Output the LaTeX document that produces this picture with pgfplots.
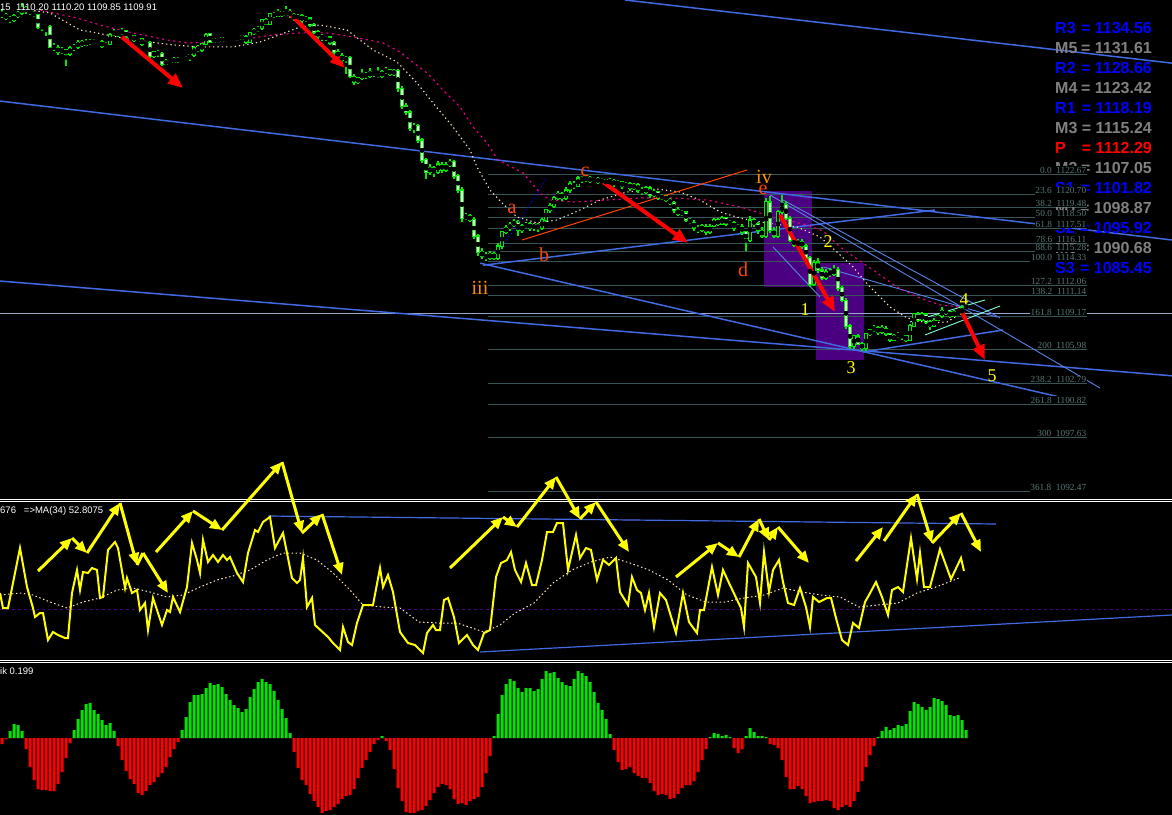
\documentclass[border=0pt]{standalone}
\usepackage{pgfplots}
\pgfplotsset{compat=1.18}
\usepackage{pgfplotstable}
\usetikzlibrary{arrows.meta}
\usepackage{fontspec}
\setmainfont{Liberation Sans}
\newfontfamily\serifmt{Liberation Serif}
\definecolor{wick}{RGB}{0,235,0}
\definecolor{mablue}{RGB}{65,105,225}
\definecolor{fanblue}{RGB}{90,130,235}
\definecolor{fib}{RGB}{55,85,85}
\definecolor{fibtxt}{RGB}{90,120,120}
\definecolor{bisq}{RGB}{255,228,196}
\definecolor{purp}{RGB}{75,0,130}
\definecolor{orred}{RGB}{255,69,0}
\definecolor{orng}{RGB}{255,145,0}
\definecolor{pvblue}{RGB}{0,0,255}
\definecolor{pvgray}{RGB}{128,128,128}
\definecolor{hgreen}{RGB}{0,230,0}
\definecolor{hred}{RGB}{255,0,0}
\definecolor{hline}{RGB}{150,170,200}
\definecolor{aqua}{RGB}{127,255,212}
\definecolor{ddblue}{RGB}{0,0,205}
\definecolor{yel}{RGB}{255,255,0}

% price candles: open high low close (one bar every 4 px, index 0..241)
\pgfplotstableread[row sep=\\]{
o h l c\\
1137.9 1138.3 1137.5 1137.78\\ 1137.78 1138.0 1137.3 1137.49\\ 1137.49 1137.7 1137.0 1137.30\\ 1137.30 1137.9 1137.1 1137.68\\
1137.68 1138.2 1137.5 1137.97\\ 1137.97 1138.9 1137.8 1138.44\\ 1138.44 1138.6 1137.9 1138.16\\ 1138.16 1138.4 1137.8 1137.97\\
1137.97 1138.2 1137.6 1137.78\\ 1137.78 1137.9 1136.5 1136.64\\ 1136.64 1136.9 1136.3 1136.73\\ 1136.73 1136.9 1135.8 1136.64\\
1136.64 1136.8 1134.6 1134.74\\ 1134.74 1135.1 1134.4 1134.64\\ 1134.64 1134.9 1134.0 1134.26\\ 1134.26 1134.7 1134.1 1134.45\\
1134.45 1134.6 1132.9 1134.07\\ 1134.07 1134.8 1133.9 1134.64\\ 1134.64 1135.0 1134.4 1134.74\\ 1134.74 1135.4 1134.5 1135.21\\
1135.21 1135.4 1134.7 1134.93\\ 1134.93 1135.5 1134.8 1135.30\\ 1135.30 1135.5 1134.9 1135.12\\ 1135.12 1135.5 1135.0 1135.30\\
1135.30 1135.4 1134.9 1135.21\\ 1135.21 1135.4 1134.6 1134.83\\ 1134.83 1135.2 1134.7 1135.02\\ 1135.02 1136.1 1134.9 1135.97\\
1135.97 1136.4 1135.8 1136.16\\ 1136.16 1136.3 1135.7 1136.07\\ 1136.07 1136.5 1135.9 1136.26\\ 1136.26 1136.4 1135.5 1135.69\\
1135.69 1136.0 1135.5 1135.78\\ 1135.78 1135.9 1135.2 1135.40\\ 1135.40 1135.7 1135.2 1135.50\\ 1135.50 1135.6 1134.8 1135.02\\
1135.02 1135.3 1134.8 1135.12\\ 1135.12 1135.3 1133.7 1133.88\\ 1133.88 1134.4 1133.7 1134.26\\ 1134.26 1134.5 1133.8 1134.07\\
1134.07 1134.3 1132.9 1133.12\\ 1133.12 1133.6 1133.0 1133.41\\ 1133.41 1133.6 1133.1 1133.31\\ 1133.31 1133.8 1133.2 1133.60\\
1133.60 1133.8 1133.2 1133.41\\ 1133.41 1133.7 1133.3 1133.50\\ 1133.50 1133.9 1133.4 1133.69\\ 1133.69 1134.1 1133.4 1133.98\\
1133.98 1134.8 1133.8 1134.64\\ 1134.64 1134.9 1134.3 1134.45\\ 1134.45 1135.1 1134.3 1135.02\\ 1135.02 1136.1 1134.9 1135.97\\
1135.97 1136.1 1135.1 1135.21\\ 1135.21 1135.6 1135.1 1135.50\\ 1135.50 1135.6 1135.1 1135.30\\ 1135.30 1135.7 1135.2 1135.59\\
1135.59 1135.7 1135.2 1135.40\\ 1135.40 1135.7 1135.3 1135.59\\ 1135.59 1135.9 1135.5 1135.69\\ 1135.69 1135.8 1135.3 1135.50\\
1135.50 1135.9 1135.4 1135.78\\ 1135.78 1135.9 1135.0 1135.21\\ 1135.21 1136.2 1135.1 1136.07\\ 1136.07 1136.5 1135.9 1136.35\\
1136.35 1136.7 1136.2 1136.54\\ 1136.54 1137.4 1136.4 1137.30\\ 1137.30 1137.5 1136.8 1136.92\\ 1136.92 1138.0 1136.8 1137.87\\
1137.87 1138.1 1137.5 1137.68\\ 1137.68 1138.4 1137.6 1138.06\\ 1138.06 1138.2 1137.6 1137.78\\ 1137.78 1138.6 1137.7 1138.06\\
1138.06 1138.3 1137.5 1137.78\\ 1137.78 1138.0 1137.2 1137.49\\ 1137.49 1137.9 1137.3 1137.68\\ 1137.68 1137.9 1137.0 1137.30\\
1137.30 1137.7 1137.1 1137.49\\ 1137.49 1137.6 1136.6 1136.83\\ 1136.83 1137.0 1136.0 1136.16\\ 1136.16 1136.4 1135.5 1135.78\\
1135.78 1136.0 1135.3 1135.59\\ 1135.59 1135.9 1135.3 1135.69\\ 1135.69 1135.8 1134.9 1135.12\\ 1135.12 1135.3 1134.0 1134.26\\
1134.26 1134.5 1133.6 1133.88\\ 1133.88 1134.2 1133.2 1133.50\\ 1133.50 1133.9 1132.2 1133.69\\ 1133.69 1133.9 1131.8 1131.98\\
1131.98 1132.2 1131.1 1131.41\\ 1131.41 1131.9 1131.2 1131.79\\ 1131.79 1132.6 1131.6 1132.17\\ 1132.17 1132.4 1131.7 1131.98\\
1131.98 1132.7 1131.8 1132.36\\ 1132.36 1132.5 1131.9 1132.17\\ 1132.17 1132.8 1131.8 1131.98\\ 1131.98 1132.6 1131.8 1132.36\\
1132.36 1132.8 1132.2 1132.55\\ 1132.55 1132.7 1132.0 1132.17\\ 1132.17 1132.6 1132.0 1132.46\\ 1132.46 1132.7 1130.5 1130.84\\
1130.84 1131.0 1128.9 1129.13\\ 1129.13 1129.4 1128.3 1128.56\\ 1128.56 1128.8 1126.8 1127.04\\ 1127.04 1127.5 1126.6 1127.23\\
1127.23 1127.4 1125.6 1125.90\\ 1125.90 1126.1 1123.7 1124.00\\ 1124.00 1124.2 1122.2 1122.86\\ 1122.86 1123.6 1122.6 1123.24\\
1123.24 1123.4 1122.4 1122.86\\ 1122.86 1123.9 1122.7 1123.62\\ 1123.62 1123.8 1122.8 1123.05\\ 1123.05 1123.8 1122.9 1123.53\\
1123.53 1124.1 1123.3 1123.81\\ 1123.81 1124.0 1122.2 1122.48\\ 1122.48 1122.7 1120.9 1121.15\\ 1121.15 1121.4 1118.1 1118.49\\
1118.49 1119.0 1118.3 1118.68\\ 1118.68 1118.9 1118.1 1118.30\\ 1118.30 1118.6 1116.5 1116.78\\ 1116.78 1117.0 1114.9 1115.26\\
1115.26 1115.6 1114.6 1114.88\\ 1114.88 1115.3 1114.4 1114.69\\ 1114.69 1115.4 1114.5 1115.07\\ 1115.07 1115.3 1114.5 1114.69\\
1114.69 1116.1 1114.5 1115.83\\ 1115.83 1117.3 1115.6 1117.16\\ 1117.16 1117.8 1117.0 1117.54\\ 1117.54 1118.1 1117.3 1117.83\\
1117.83 1118.4 1117.6 1118.11\\ 1118.11 1118.3 1116.8 1117.35\\ 1117.35 1117.9 1117.1 1117.73\\ 1117.73 1118.1 1117.5 1117.92\\
1117.92 1118.1 1117.3 1117.54\\ 1117.54 1118.0 1117.3 1117.83\\ 1117.83 1118.0 1117.2 1117.54\\ 1117.54 1118.5 1117.4 1118.30\\
1118.30 1119.4 1118.1 1119.25\\ 1119.25 1119.9 1119.0 1119.63\\ 1119.63 1120.6 1119.4 1120.39\\ 1120.39 1121.1 1120.2 1120.77\\
1120.77 1121.0 1120.1 1120.39\\ 1120.39 1121.4 1120.2 1121.15\\ 1121.15 1122.0 1120.9 1121.72\\ 1121.72 1122.0 1121.2 1121.53\\
1121.53 1122.5 1121.4 1122.29\\ 1122.29 1122.5 1121.8 1122.10\\ 1122.10 1122.6 1121.9 1122.29\\ 1122.29 1122.5 1121.8 1122.01\\
1122.01 1122.4 1121.9 1122.20\\ 1122.20 1122.4 1121.7 1121.91\\ 1121.91 1122.3 1121.8 1122.10\\ 1122.10 1122.2 1121.6 1121.82\\
1121.82 1122.3 1121.7 1122.01\\ 1122.01 1122.2 1121.4 1121.72\\ 1121.72 1122.1 1121.6 1121.91\\ 1121.91 1122.0 1121.3 1121.53\\
1121.53 1121.9 1121.4 1121.72\\ 1121.72 1121.9 1121.1 1121.34\\ 1121.34 1121.8 1121.2 1121.63\\ 1121.63 1121.8 1120.9 1121.15\\
1121.15 1121.4 1120.7 1120.96\\ 1120.96 1121.5 1120.8 1121.34\\ 1121.34 1121.5 1120.4 1120.68\\ 1120.68 1121.2 1120.5 1120.96\\
1120.96 1121.1 1120.2 1120.39\\ 1120.39 1120.8 1120.2 1120.58\\ 1120.58 1120.7 1120.0 1120.20\\ 1120.20 1120.4 1119.7 1119.92\\
1119.92 1120.1 1119.0 1119.25\\ 1119.25 1119.5 1118.7 1118.87\\ 1118.87 1119.3 1118.7 1119.06\\ 1119.06 1119.2 1118.1 1118.30\\
1118.30 1118.5 1117.9 1118.11\\ 1118.11 1118.3 1117.3 1117.54\\ 1117.54 1117.8 1117.1 1117.35\\ 1117.35 1117.9 1117.2 1117.73\\
1117.73 1117.9 1116.9 1117.16\\ 1117.16 1117.9 1117.0 1117.73\\ 1117.73 1118.5 1117.6 1118.30\\ 1118.30 1118.5 1117.7 1117.92\\
1117.92 1118.7 1117.8 1118.49\\ 1118.49 1118.6 1117.7 1117.92\\ 1117.92 1118.3 1117.8 1118.11\\ 1118.11 1118.2 1117.3 1117.54\\
1117.54 1117.9 1117.4 1117.73\\ 1117.73 1117.9 1116.9 1117.16\\ 1117.16 1117.3 1115.4 1116.40\\ 1116.40 1118.7 1116.2 1118.30\\
1118.30 1118.5 1117.6 1117.92\\ 1117.92 1118.1 1117.0 1117.35\\ 1117.35 1117.6 1116.6 1116.78\\ 1116.78 1120.4 1116.6 1120.01\\
1120.01 1120.6 1117.1 1117.35\\ 1117.35 1117.6 1116.6 1116.78\\ 1116.78 1119.3 1116.6 1119.06\\ 1119.06 1120.7 1118.8 1119.73\\
1119.73 1120.1 1118.3 1118.49\\ 1118.49 1118.7 1116.2 1116.40\\ 1116.40 1116.6 1115.7 1115.93\\ 1115.93 1116.5 1115.8 1116.21\\
1116.21 1116.5 1115.6 1115.83\\ 1115.83 1116.0 1114.5 1114.69\\ 1114.69 1114.9 1111.9 1112.22\\ 1112.22 1114.5 1112.0 1114.31\\
1114.31 1114.7 1113.3 1113.55\\ 1113.55 1113.8 1112.6 1112.79\\ 1112.79 1113.6 1112.6 1113.36\\ 1113.36 1113.7 1112.9 1113.17\\
1113.17 1114.0 1113.0 1113.55\\ 1113.55 1113.8 1111.6 1111.84\\ 1111.84 1112.0 1110.5 1110.70\\ 1110.70 1110.9 1108.0 1108.23\\
1108.23 1108.4 1106.1 1106.33\\ 1106.33 1107.4 1106.1 1107.28\\ 1107.28 1107.5 1106.4 1106.52\\ 1106.52 1106.7 1105.9 1106.14\\
1106.14 1107.6 1105.9 1107.47\\ 1107.47 1107.9 1107.3 1107.85\\ 1107.85 1108.3 1107.7 1108.04\\ 1108.04 1108.2 1107.4 1107.66\\
1107.66 1108.3 1107.5 1108.04\\ 1108.04 1108.2 1107.3 1107.47\\ 1107.47 1107.6 1106.7 1106.90\\ 1106.90 1107.5 1106.8 1107.28\\
1107.28 1107.7 1107.1 1107.47\\ 1107.47 1107.6 1106.9 1107.28\\ 1107.28 1107.4 1106.7 1106.90\\ 1106.90 1108.4 1106.8 1108.23\\
1108.23 1109.5 1108.1 1109.37\\ 1109.37 1109.6 1108.6 1108.80\\ 1108.80 1109.6 1108.7 1109.37\\ 1109.37 1109.5 1108.4 1108.61\\
1108.61 1108.8 1107.9 1108.23\\ 1108.23 1109.0 1108.1 1108.80\\ 1108.80 1109.4 1108.7 1109.18\\ 1109.18 1110.0 1109.0 1109.75\\
1109.75 1109.9 1109.3 1109.56\\ 1109.56 1109.7 1109.0 1109.18\\ 1109.18 1109.8 1109.1 1109.56\\ 1109.56 1109.7 1109.2 1109.37\\
1109.37 1110.2 1109.3 1109.94\\ 1110.20 1110.20 1109.85 1109.91\\
}\tcandles

% oscillator (yellow line)
\pgfplotstableread[row sep=\\]{
x v\\
0 51.6\\ 3 50.1\\ 8 50.1\\ 20 56.1\\ 27 52.2\\ 33 50.1\\ 35 49.2\\ 40 49.6\\ 43 49.6\\ 48 46.9\\ 53 47.7\\ 58 47.4\\ 65 47.1\\ 68 47.1\\
72 51.6\\ 77 53.9\\ 80 51.9\\ 83 53.7\\ 88 53.6\\ 92 54.1\\ 97 53.9\\ 100 51.1\\ 103 51.2\\ 108 55.9\\ 115 56.7\\ 118 56.1\\ 125 52.1\\
127 53.1\\ 132 51.6\\ 137 51.9\\ 140 49.9\\ 145 50.6\\ 148 47.9\\ 153 51.1\\ 158 49.6\\ 162 48.4\\ 167 49.9\\ 170 49.7\\ 173 51.2\\
180 49.7\\ 187 52.2\\ 192 56.6\\ 197 54.9\\ 200 53.6\\ 203 56.9\\ 208 54.7\\ 213 55.4\\ 218 54.7\\ 223 55.4\\ 227 54.9\\ 230 55.2\\
237 53.6\\ 243 52.7\\ 248 55.6\\ 255 57.9\\ 258 57.7\\ 263 58.7\\ 270 59.2\\ 275 56.1\\ 283 57.6\\ 292 53.1\\ 297 52.6\\ 300 52.9\\
303 55.1\\ 307 50.2\\ 312 51.1\\ 315 48.4\\ 328 47.2\\ 333 46.6\\ 340 45.9\\ 343 48.2\\ 348 46.7\\ 352 46.4\\ 357 48.6\\ 363 50.4\\
373 50.4\\ 380 54.1\\ 383 52.2\\ 388 53.4\\ 393 51.7\\ 400 47.7\\ 408 46.6\\ 415 46.4\\ 423 45.6\\ 427 47.6\\ 433 48.4\\ 436 47.9\\
440 47.9\\ 444 50.9\\ 448 51.1\\ 454 49.2\\ 459 46.6\\ 467 47.4\\ 473 46.4\\ 478 45.9\\ 484 47.6\\ 490 47.9\\ 496 53.2\\ 501 54.6\\
507 54.9\\ 511 55.7\\ 515 53.9\\ 521 52.7\\ 526 54.6\\ 532 52.4\\ 536 52.4\\ 542 54.9\\ 547 57.7\\ 553 57.7\\ 557 58.6\\ 563 58.6\\
568 53.9\\ 576 57.4\\ 580 55.1\\ 586 56.1\\ 591 55.9\\ 597 52.9\\ 603 54.9\\ 609 54.4\\ 616 55.1\\ 620 51.7\\ 628 50.4\\ 632 53.2\\
637 51.9\\ 641 51.6\\ 645 49.9\\ 649 51.6\\ 654 48.2\\ 660 51.6\\ 666 50.9\\ 676 47.6\\ 683 51.6\\ 689 48.7\\ 697 47.6\\ 700 49.9\\
704 49.9\\ 712 54.2\\ 718 51.4\\ 723 53.9\\ 729 52.6\\ 741 50.1\\ 744 48.2\\ 748 54.6\\ 756 53.2\\ 760 50.6\\ 764 55.7\\ 769 51.7\\
773 53.9\\ 779 54.9\\ 783 52.7\\ 788 50.6\\ 794 50.4\\ 800 52.1\\ 806 50.2\\ 810 48.2\\ 813 51.2\\ 819 50.7\\ 827 51.1\\ 831 51.1\\
836 49.1\\ 842 46.9\\ 848 46.4\\ 853 48.6\\ 859 48.1\\ 865 50.7\\ 869 51.4\\ 876 52.7\\ 882 51.2\\ 888 49.4\\ 892 51.9\\ 898 52.2\\
903 51.7\\ 911 57.1\\ 917 53.0\\ 920 55.6\\ 924 52.2\\ 930 52.2\\ 940 56.0\\ 951 53.0\\ 961 55.1\\ 964 53.8\\
}\tosc

% oscillator MA(34)
\pgfplotstableread[row sep=\\]{
x v\\
0 51.4\\ 20 51.6\\ 33 51.4\\ 50 50.7\\ 67 50.1\\ 83 50.7\\ 100 51.1\\ 117 51.9\\ 133 52.1\\ 150 51.7\\ 167 51.2\\ 183 51.4\\
200 52.2\\ 217 52.9\\ 233 53.3\\ 250 53.9\\ 267 54.9\\ 283 55.6\\ 300 55.6\\ 317 54.9\\ 333 53.6\\ 350 51.9\\ 363 50.4\\ 383 50.2\\
400 50.1\\ 419 48.7\\ 438 48.6\\ 457 48.6\\ 484 47.7\\ 500 48.4\\ 515 49.6\\ 534 50.6\\ 553 52.6\\ 572 53.9\\ 591 54.7\\ 610 55.2\\
630 54.6\\ 649 53.9\\ 668 52.9\\ 687 51.4\\ 706 50.7\\ 725 50.7\\ 744 51.1\\ 764 51.4\\ 783 52.1\\ 802 51.7\\ 821 51.4\\ 840 51.2\\
859 50.2\\ 878 50.4\\ 898 50.6\\ 917 51.6\\ 936 52.2\\ 959 53.1\\
}\toscma

% histogram: one value per bar
\pgfplotstableread[row sep=\\]{
v\\
-0.06\\ -0.01\\ 0.07\\ 0.14\\ 0.13\\ 0.07\\ -0.11\\ -0.29\\ -0.42\\ -0.51\\ -0.52\\ -0.52\\ -0.53\\ -0.53\\ -0.46\\ -0.34\\ -0.20\\ -0.05\\
0.08\\ 0.19\\ 0.28\\ 0.34\\ 0.35\\ 0.28\\ 0.24\\ 0.18\\ 0.13\\ 0.15\\ 0.07\\ -0.08\\ -0.22\\ -0.33\\ -0.41\\ -0.46\\ -0.55\\ -0.57\\
-0.53\\ -0.47\\ -0.44\\ -0.39\\ -0.35\\ -0.29\\ -0.19\\ -0.11\\ -0.04\\ 0.08\\ 0.21\\ 0.36\\ 0.43\\ 0.43\\ 0.44\\ 0.50\\ 0.55\\ 0.53\\
0.54\\ 0.51\\ 0.44\\ 0.38\\ 0.33\\ 0.30\\ 0.26\\ 0.29\\ 0.41\\ 0.49\\ 0.56\\ 0.59\\ 0.56\\ 0.54\\ 0.47\\ 0.38\\ 0.29\\ 0.20\\ 0.05\\
-0.14\\ -0.30\\ -0.42\\ -0.47\\ -0.56\\ -0.63\\ -0.69\\ -0.75\\ -0.73\\ -0.72\\ -0.69\\ -0.66\\ -0.61\\ -0.58\\ -0.57\\ -0.51\\ -0.40\\
-0.30\\ -0.22\\ -0.14\\ -0.06\\ -0.02\\ 0.02\\ -0.03\\ -0.12\\ -0.31\\ -0.50\\ -0.63\\ -0.74\\ -0.75\\ -0.75\\ -0.73\\ -0.72\\ -0.68\\
-0.62\\ -0.55\\ -0.49\\ -0.46\\ -0.47\\ -0.51\\ -0.61\\ -0.66\\ -0.65\\ -0.67\\ -0.63\\ -0.61\\ -0.59\\ -0.49\\ -0.35\\ -0.18\\ 0.02\\
0.24\\ 0.43\\ 0.54\\ 0.59\\ 0.57\\ 0.50\\ 0.46\\ 0.50\\ 0.50\\ 0.47\\ 0.49\\ 0.59\\ 0.67\\ 0.65\\ 0.66\\ 0.60\\ 0.56\\ 0.53\\ 0.52\\
0.59\\ 0.67\\ 0.65\\ 0.62\\ 0.56\\ 0.46\\ 0.35\\ 0.28\\ 0.19\\ 0.04\\ -0.12\\ -0.24\\ -0.32\\ -0.31\\ -0.29\\ -0.35\\ -0.38\\ -0.40\\
-0.40\\ -0.45\\ -0.53\\ -0.57\\ -0.56\\ -0.57\\ -0.61\\ -0.60\\ -0.56\\ -0.50\\ -0.47\\ -0.47\\ -0.43\\ -0.34\\ -0.22\\ -0.11\\ 0.01\\
0.05\\ 0.04\\ 0.02\\ 0.03\\ 0.01\\ -0.10\\ -0.15\\ -0.11\\ 0.02\\ 0.10\\ 0.06\\ 0.02\\ 0.02\\ 0.01\\ -0.06\\ -0.07\\ -0.10\\ -0.22\\
-0.39\\ -0.51\\ -0.51\\ -0.48\\ -0.51\\ -0.58\\ -0.65\\ -0.64\\ -0.63\\ -0.63\\ -0.62\\ -0.63\\ -0.70\\ -0.72\\ -0.69\\ -0.67\\ -0.69\\
-0.63\\ -0.54\\ -0.43\\ -0.29\\ -0.17\\ -0.08\\ 0.01\\ 0.07\\ 0.11\\ 0.08\\ 0.10\\ 0.13\\ 0.12\\ 0.14\\ 0.27\\ 0.36\\ 0.34\\ 0.31\\
0.28\\ 0.31\\ 0.40\\ 0.39\\ 0.37\\ 0.33\\ 0.23\\ 0.22\\ 0.23\\ 0.18\\ 0.08\\
}\thistdata

\pgfplotsset{panel/.style={hide axis, scale only axis, width=1172bp, xmin=0, xmax=1172}}
\tikzset{
  redarr/.style={hred, line width=4bp, -{Triangle[length=15bp,width=12bp]}},
  yarr/.style={yel, line width=3bp, -{Triangle[length=12bp,width=10bp]}},
  yseg/.style={yel, line width=3bp},
  fibl/.style={fib, line width=1bp},
  blue1/.style={mablue, line width=1.5bp},
  fan1/.style={fanblue, line width=0.9bp},
  pivl/.style={anchor=west, inner sep=0pt, font=\fontsize{16bp}{18bp}\selectfont\bfseries},
  pivr/.style={anchor=east, inner sep=0pt, font=\fontsize{16bp}{18bp}\selectfont\bfseries},
  fibtag/.style={anchor=south east, fill=black, inner sep=0.6bp, text=fibtxt, font=\serifmt\fontsize{9.3bp}{10bp}\selectfont},
  wave/.style={font=\serifmt\fontsize{20bp}{22bp}\selectfont},
  wnum/.style={text=yel, font=\serifmt\fontsize{18bp}{20bp}\selectfont},
}

\begin{document}
\begin{tikzpicture}
\path[use as bounding box] (0,0) rectangle (1172bp,-815bp);
\clip (0,0) rectangle (1172bp,-815bp);
\fill[black] (0,0) rectangle (1172bp,-815bp);
\draw[white, line width=1bp] (0,-499bp) -- (1172bp,-499bp);
\draw[white, line width=1bp] (0,-501.5bp) -- (1172bp,-501.5bp);
\draw[white, line width=1bp] (0,-660bp) -- (1172bp,-660bp);
\draw[white, line width=1bp] (0,-662.5bp) -- (1172bp,-662.5bp);

% ---------------- price panel ----------------
\begin{axis}[panel, at={(0bp,0bp)}, anchor=north west, height=498bp, ymin=1091.89, ymax=1139.2]
% purple boxes
\addplot[fill=purp, draw=none] coordinates {(764,1121.06) (812,1121.06) (812,1111.94) (764,1111.94)};
\addplot[fill=purp, draw=none] coordinates {(816,1114.22) (864,1114.22) (864,1105.0) (816,1105.0)};
% fibonacci levels
\addplot[fibl] coordinates {(488,1122.67) (1087,1122.67)};
\addplot[fibl] coordinates {(488,1120.70) (1087,1120.70)};
\addplot[fibl] coordinates {(488,1119.48) (1087,1119.48)};
\addplot[fibl] coordinates {(488,1118.50) (1087,1118.50)};
\addplot[fibl] coordinates {(488,1117.51) (1087,1117.51)};
\addplot[fibl] coordinates {(488,1116.11) (1087,1116.11)};
\addplot[fibl] coordinates {(488,1115.28) (1087,1115.28)};
\addplot[fibl] coordinates {(488,1114.33) (1087,1114.33)};
\addplot[fibl] coordinates {(488,1112.06) (1087,1112.06)};
\addplot[fibl] coordinates {(488,1111.14) (1087,1111.14)};
\addplot[fibl] coordinates {(488,1109.17) (1087,1109.17)};
\addplot[fibl] coordinates {(488,1105.98) (1087,1105.98)};
\addplot[fibl] coordinates {(488,1102.79) (1087,1102.79)};
\addplot[fibl] coordinates {(488,1100.82) (1087,1100.82)};
\addplot[fibl] coordinates {(488,1097.63) (1087,1097.63)};
\addplot[fibl] coordinates {(488,1092.47) (1087,1092.47)};
% horizontal level across the chart
\addplot[hline, line width=1bp] coordinates {(0,1109.45) (1172,1109.45)};
% trend lines
\addplot[blue1] coordinates {(625,1139.2) (1172,1133.2)};
\addplot[blue1] coordinates {(0,1129.6) (1172,1116.4)};
\addplot[blue1] coordinates {(0,1112.5) (1172,1103.5)};
\addplot[blue1] coordinates {(480,1114.2) (1068,1101.3)};
\addplot[blue1] coordinates {(483,1114.0) (935,1119.25)};
\addplot[blue1] coordinates {(863,1105.76) (1003,1107.85)};
\addplot[fan1] coordinates {(770,1120.68) (1100,1102.34)};
\addplot[fan1] coordinates {(783,1120.2) (1000,1109.0)};
\addplot[fan1] coordinates {(823,1113.84) (997,1109.08)};
\addplot[fan1] coordinates {(773,1115.74) (820,1110.99)};
\addplot[aqua, line width=0.9bp] coordinates {(910,1108.61) (985,1110.7)};
\addplot[aqua, line width=0.9bp] coordinates {(925,1107.38) (1000,1110.13)};
% moving averages
\addplot[bisq, line width=1.1bp, dash pattern=on 1.3bp off 3bp] coordinates {
(30,1138.25) (50,1137.97) (80,1136.35) (97,1136.07) (117,1135.69) (150,1135.21) (173,1134.93) (200,1134.74)
(233,1134.74) (260,1135.21) (287,1136.16) (300,1136.64) (320,1136.83) (347,1136.35) (373,1134.45) (397,1133.31)
(417,1131.32) (433,1129.42) (453,1127.14) (470,1124.95) (477,1123.34) (490,1121.15) (502,1119.92) (517,1118.59)
(537,1118.02) (557,1118.30) (580,1119.25) (600,1120.20) (627,1120.96) (657,1121.25) (680,1120.96) (700,1120.20)
(720,1119.06) (740,1118.49) (760,1118.11) (797,1117.64) (820,1116.69) (837,1115.26) (853,1113.84) (870,1111.94)
(890,1110.04) (907,1109.00) (927,1108.52) (947,1108.61) (962,1109.47)};
\addplot[magenta, line width=1.1bp, dash pattern=on 2.2bp off 3.5bp] coordinates {
(40,1138.25) (77,1137.49) (100,1136.83) (133,1136.07) (167,1135.40) (187,1135.12) (217,1135.21) (253,1135.59)
(273,1135.88) (300,1136.07) (327,1136.07) (353,1135.69) (383,1135.12) (400,1134.26) (410,1133.50) (427,1132.27)
(443,1130.65) (460,1129.04) (473,1127.14) (487,1125.62) (498,1124.0) (523,1122.77) (540,1120.87) (550,1120.20)
(573,1120.01) (607,1120.20) (640,1120.39) (673,1120.39) (707,1120.20) (740,1119.54) (773,1118.59) (807,1117.83)
(823,1117.26) (840,1115.74) (873,1113.55) (897,1111.94) (917,1110.99) (940,1110.23) (960,1110.04)};
% candles: wicks, bodies, inner fills
\addplot[only marks, mark=none, error bars/.cd, y dir=both, y explicit, error mark=none,
  error bar style={line width=1.1bp, draw=wick}]
  table[x expr=2+4*\coordindex, y expr=(\thisrow{h}+\thisrow{l})/2, y error expr=(\thisrow{h}-\thisrow{l})/2] {\tcandles};
\addplot[only marks, mark=none, error bars/.cd, y dir=both, y explicit, error mark=none,
  error bar style={line width=4bp, draw=wick}]
  table[x expr=2+4*\coordindex, y expr=(\thisrow{o}+\thisrow{c})/2, y error expr={abs(\thisrow{o}-\thisrow{c})/2+0.06}] {\tcandles};
\addplot[only marks, mark=none, error bars/.cd, y dir=both, y explicit, error mark=none,
  error bar style={line width=1.9bp, draw=white}]
  table[x expr=2+4*\coordindex, y expr=(\thisrow{o}+\thisrow{c})/2, y error expr={max((\thisrow{o}>\thisrow{c})*(\thisrow{o}-\thisrow{c})/2-0.04,0)}] {\tcandles};
\addplot[only marks, mark=none, error bars/.cd, y dir=both, y explicit, error mark=none,
  error bar style={line width=1.9bp, draw=black}]
  table[x expr=2+4*\coordindex, y expr=(\thisrow{o}+\thisrow{c})/2, y error expr={max((\thisrow{c}>\thisrow{o})*(\thisrow{c}-\thisrow{o})/2-0.04,0)}] {\tcandles};
% wave construction lines
\addplot[orred, line width=1bp] coordinates {(522,1116.4) (747,1123.05)};
\addplot[ddblue, line width=1bp, dash pattern=on 1.5bp off 2bp] coordinates {(505,1116.12) (547,1122.29)};
% red arrows
\addplot[redarr] coordinates {(122,1135.69) (183,1130.84)};
\addplot[redarr] coordinates {(288,1138.06) (345,1132.74)};
\addplot[redarr] coordinates {(603,1121.91) (688,1116.12)};
\addplot[redarr] coordinates {(780,1118.78) (835,1109.56)};
\addplot[redarr] coordinates {(962,1109.56) (985,1105.0)};
% pivot levels text
\foreach \lab/\val/\yy/\col in {R3/1134.56/1136.54/pvblue, M5/1131.61/1134.64/pvgray, R2/1128.66/1132.74/pvblue,
  M4/1123.42/1130.84/pvgray, R1/1118.19/1128.94/pvblue, M3/1115.24/1127.04/pvgray, P/1112.29/1125.14/hred,
  M2/1107.05/1123.24/pvgray, S1/1101.82/1121.34/pvblue, M1/1098.87/1119.44/pvgray, S2/1095.92/1117.54/pvblue,
  M0/1090.68/1115.64/pvgray, S3/1085.45/1113.74/pvblue}{
  \edef\temp{\noexpand\node[pivl, text=\col] at (axis cs:1055,\yy) {\lab};
    \noexpand\node[pivr, text=\col] at (axis cs:1152,\yy) {= \val};}
  \temp
}
% fibonacci labels
\foreach \lv/\pr in {0.0/1122.67, 23.6/1120.70, 38.2/1119.48, 50.0/1118.50, 61.8/1117.51, 78.6/1116.11, 88.6/1115.28,
  100.0/1114.33, 127.2/1112.06, 138.2/1111.14, 161.8/1109.17, 200/1105.98, 238.2/1102.79, 261.8/1100.82, 300/1097.63, 361.8/1092.47}{
  \edef\temp{\noexpand\node[fibtag] at (axis cs:1087,\pr) {\lv\noexpand\ \noexpand\ \pr};}
  \temp
}
% wave labels
\node[wave, text=orred] at (axis cs:512,1119.35) {a};
\node[wave, text=orred] at (axis cs:544,1114.98) {b};
\node[wave, text=orred] at (axis cs:585,1122.86) {c};
\node[wave, text=orred] at (axis cs:743,1113.55) {d};
\node[wave, text=orred] at (axis cs:763,1121.15) {e};
\node[wave, text=orng] at (axis cs:764,1122.4) {iv};
\node[wave, text=orng] at (axis cs:480,1111.84) {iii};
\node[wnum] at (axis cs:805,1109.75) {1};
\node[wnum] at (axis cs:828,1116.3) {2};
\node[wnum] at (axis cs:851,1104.24) {3};
\node[wnum] at (axis cs:964,1110.7) {4};
\node[wnum] at (axis cs:992,1103.48) {5};
\end{axis}

% ---------------- oscillator panel ----------------
\begin{axis}[panel, at={(0bp,-502bp)}, anchor=north west, height=157bp, ymin=45.0, ymax=60.7, clip=false]
\addplot[purp, line width=1bp, dash pattern=on 3bp off 3bp] coordinates {(0,50) (1172,50)};
\addplot[mablue, line width=1.2bp] coordinates {(268,59.3) (996,58.5)};
\addplot[mablue, line width=1.2bp] coordinates {(480,45.7) (1172,49.4)};
\addplot[bisq, line width=1bp, dash pattern=on 1.5bp off 2.5bp] table[x=x, y=v] {\toscma};
\addplot[yel, line width=2bp] table[x=x, y=v] {\tosc};
% arrows drawn on the indicator
\addplot[yarr] coordinates {(38,53.8) (72,57.1)};
\addplot[yarr] coordinates {(72,57.1) (87,55.6)};
\addplot[yarr] coordinates {(87,55.6) (120,60.6)};
\addplot[yarr] coordinates {(120,60.6) (137,54.4)};
\addplot[yseg] coordinates {(137,54.4) (143,55.6)};
\addplot[yarr] coordinates {(143,55.6) (168,51.6)};
\addplot[yarr] coordinates {(156,55.7) (193,59.8)};
\addplot[yarr] coordinates {(193,59.8) (222,57.9)};
\addplot[yarr] coordinates {(222,57.9) (282,64.7)};
\addplot[yarr] coordinates {(282,64.7) (302,57.6)};
\addplot[yarr] coordinates {(302,57.6) (322,59.5)};
\addplot[yarr] coordinates {(322,59.5) (342,53.4)};
\addplot[yarr] coordinates {(450,54.1) (503,59.2)};
\addplot[yarr] coordinates {(503,59.2) (517,58.2)};
\addplot[yarr] coordinates {(517,58.2) (556,63.2)};
\addplot[yarr] coordinates {(556,63.2) (580,59.0)};
\addplot[yarr] coordinates {(580,59.0) (596,60.7)};
\addplot[yarr] coordinates {(596,60.7) (629,55.7)};
\addplot[yarr] coordinates {(676,53.2) (718,56.6)};
\addplot[yarr] coordinates {(718,56.6) (739,55.2)};
\addplot[yarr] coordinates {(739,55.2) (759,59.0)};
\addplot[yarr] coordinates {(759,59.0) (769,56.9)};
\addplot[yarr] coordinates {(769,56.9) (778,58.2)};
\addplot[yarr] coordinates {(778,58.2) (809,54.6)};
\addplot[yarr] coordinates {(856,54.8) (883,58.2)};
\addplot[yarr] coordinates {(884,56.8) (917,61.5)};
\addplot[yarr] coordinates {(917,61.5) (932,56.6)};
\addplot[yarr] coordinates {(932,56.6) (961,59.6)};
\addplot[yarr] coordinates {(961,59.6) (981,55.7)};
\end{axis}

% ---------------- histogram panel ----------------
\begin{axis}[panel, at={(0bp,-663bp)}, anchor=north west, height=152bp, ymin=-0.77, ymax=0.75]
\addplot[ybar, bar width=3, bar shift=0pt, fill=hgreen, draw=none] table[x index=0, y index=0, x expr=2+4*\coordindex, y expr={max(\thisrow{v},0)}] {\thistdata};
\addplot[ybar, bar width=3, bar shift=0pt, fill=hred, draw=none] table[x index=0, y index=0, x expr=2+4*\coordindex, y expr={min(\thisrow{v},0)}] {\thistdata};
\end{axis}

% panel captions
\node[anchor=west, text=white, inner sep=0pt, font=\fontsize{9.5bp}{11bp}\selectfont] at (0bp,-7bp) {15\ \ 1110.20 1110.20 1109.85 1109.91};
\node[anchor=west, text=white, inner sep=0pt, font=\fontsize{9.5bp}{11bp}\selectfont] at (0bp,-511bp) {676\ \ \ =>MA(34) 52.8075};
\node[anchor=west, text=white, inner sep=0pt, font=\fontsize{9.5bp}{11bp}\selectfont] at (0bp,-671bp) {ik 0.199};
\end{tikzpicture}
\end{document}
